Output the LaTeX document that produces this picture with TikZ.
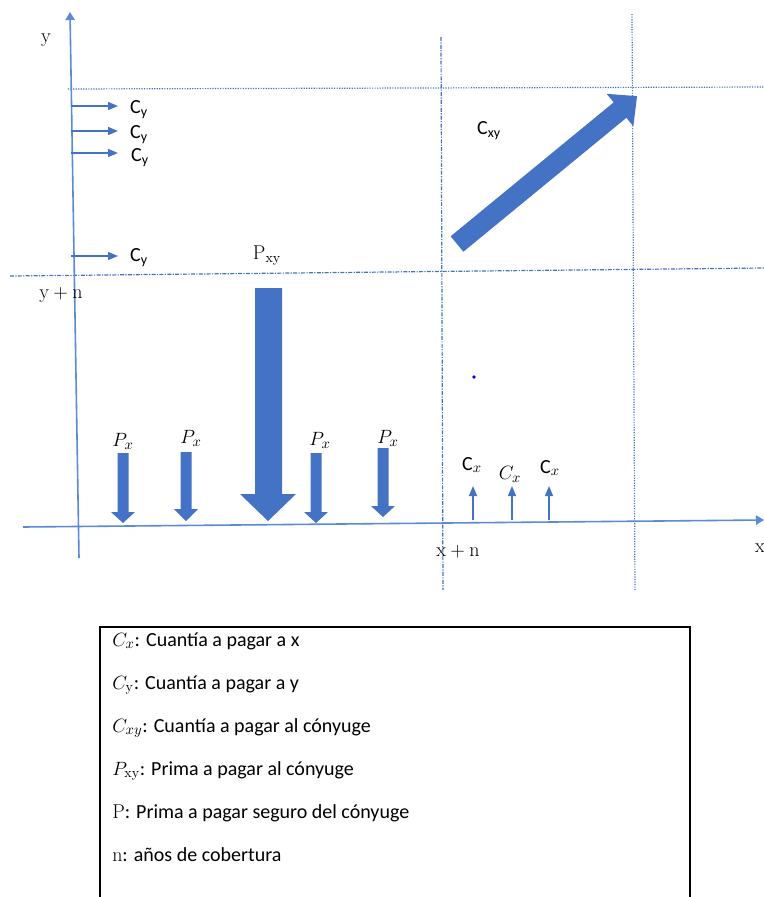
\documentclass[tikz,border=0pt]{standalone}
\usepackage{fontspec}
\usetikzlibrary{arrows.meta}
\newfontfamily\calib{Carlito}
\definecolor{Bar}{HTML}{4472C4}
\definecolor{Axis}{HTML}{5B8BD6}

\begin{document}
\begin{tikzpicture}[x=0.75pt,y=-0.75pt,
  lab/.style={font=\fontsize{15}{17}\selectfont,inner sep=0pt},
  legend/.style={font=\calib\fontsize{15}{17}\selectfont,inner sep=0pt,anchor=base west},
  guide/.style={Bar,line width=0.9pt},
  thinarrow/.style={Bar,line width=1pt,-{Triangle[length=7.5pt,width=6pt]}}]
\useasboundingbox (0,0) rectangle (764,897);
% guide lines
\draw[guide,densely dotted] (68,89) -- (764,87);
\draw[guide,densely dash dot] (10,276) -- (764,268);
\draw[guide,densely dash dot] (441,37) -- (443,590);
\draw[guide,densely dotted] (632,14) -- (635,590);
% axes
\coordinate (ybot) at (79,558); \coordinate (ytop) at (70,12);
\coordinate (xleft) at (23,527); \coordinate (xright) at (764,520);
\draw[Axis,line width=1.2pt,-{Triangle[length=6pt,width=7pt]}] (ybot) -- (ytop);
\draw[Axis,line width=1.2pt,-{Triangle[length=6pt,width=7pt]}] (xleft) -- (xright);
\node[lab] (ylab) at (46,40) {y};
\node[lab] (xlab) at (760,548) {x};
\node[lab] (ynlab) at (61,295) {$\mathrm{y}+\mathrm{n}$};
\node[lab] (xnlab) at (458,552) {$\mathrm{x}+\mathrm{n}$};
% payments to y
\foreach \y/\n in {106/1,131/2,153/3,256/4} {\coordinate (cys\n) at (71,\y); \coordinate (cye\n) at (118,\y); \draw[thinarrow] (cys\n) -- (cye\n);}
\node[lab] (cy1) at (139,110) {\calib C\textsubscript{y}};
\node[lab] (cy2) at (139,135) {\calib C\textsubscript{y}};
\node[lab] (cy3) at (140,158) {\calib C\textsubscript{y}};
\node[lab] (cy4) at (139,258) {\calib C\textsubscript{y}};
% premium to the couple
\node[lab] (pxy) at (267,256) {$\mathrm{P_{xy}}$};
\fill[Bar] (255,288) -- (282,288) -- (282,494) -- (296,494) -- (268,521) -- (240,494) -- (255,494) -- cycle;
% premiums P_x
\foreach \cx/\ty/\hy/\tipy in {123/453/512/523, 186/452/509/521, 316/453/512/523, 383/448/506/517} {\fill[Bar] (\cx-5.5,\ty) -- (\cx+5.5,\ty) -- (\cx+5.5,\hy) -- (\cx+12,\hy) -- (\cx,\tipy) -- (\cx-12,\hy) -- (\cx-5.5,\hy) -- cycle;}
\node[lab] (px1) at (123,441) {$P_x$};
\node[lab] (px2) at (191,438) {$P_x$};
\node[lab] (px3) at (320,440) {$P_x$};
\node[lab] (px4) at (388,438) {$P_x$};
% payments to x
\foreach \x/\n in {473/1,512/2,549/3} {\coordinate (cxs\n) at (\x,520); \coordinate (cxe\n) at (\x,486); \draw[thinarrow] (cxs\n) -- (cxe\n);}
\node[lab] (cx1) at (472,465) {{\calib C}$_x$};
\node[lab] (cx2) at (510,474) {$C_x$};
\node[lab] (cx3) at (550,468) {{\calib C}$_x$};
\fill[blue] (474,377) circle (1.8);
% payment to the couple
\node[lab] (cxy) at (489,131) {\calib C\textsubscript{xy}};
\begin{scope}[shift={(457,244)},rotate=39.4]
\fill[Bar] (0,-10) -- (211,-10) -- (211,-21) -- (233,0) -- (211,21) -- (211,10) -- (0,10) -- cycle;
\end{scope}
% legend
\draw[black,line width=0.8pt] (100,897) -- (100,627) -- (690,627) -- (690,897);
\node[legend] (leg1) at (112,646) {$C_x$: Cuantía a pagar a x};
\node[legend] (leg2) at (112,689) {$C_{\mathrm{y}}$: Cuantía a pagar a y};
\node[legend] (leg3) at (112,732) {$C_{xy}$: Cuantía a pagar al cónyuge};
\node[legend] (leg4) at (112,775) {$P_{\mathrm{xy}}$: Prima a pagar al cónyuge};
\node[legend] (leg5) at (112,818) {$\mathrm{P}$: Prima a pagar seguro del cónyuge};
\node[legend] (leg6) at (112,861) {$\mathrm{n}$: años de cobertura};
\end{tikzpicture}
\end{document}
